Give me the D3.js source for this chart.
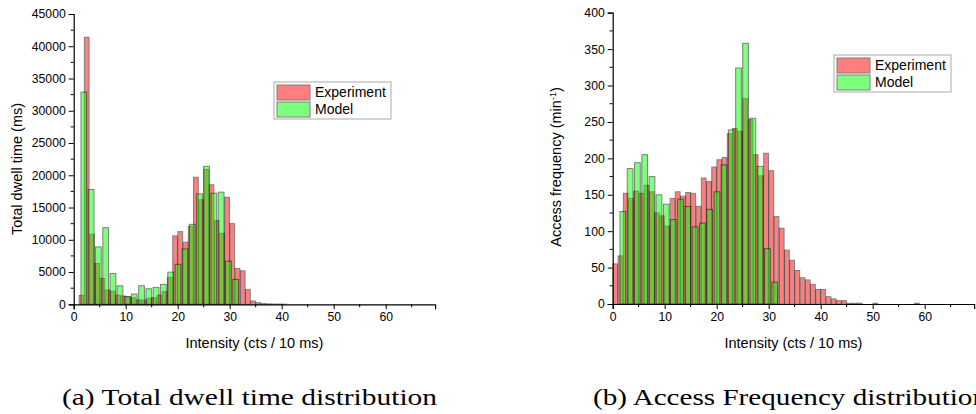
<!DOCTYPE html>
<html>
<head>
<meta charset="utf-8">
<script src="https://cdn.jsdelivr.net/npm/d3@7"></script>
<style>
    body { margin: 0; background: #fff; }
    svg text { font-family: Arial, "Liberation Sans", sans-serif; fill: #000; }
    .caption { font-family: "Liberation Serif", "DejaVu Serif", serif; }
</style>
</head>
<body>
<svg id="chart" width="976" height="414"></svg>
<script>
//--------------------------------------------------
// data
//--------------------------------------------------

// experiment: one bin per intensity unit, starting at 0
const dwellExperiment = [0, 1390, 41400, 10850, 6330, 4010, 2210, 2050, 1430, 1280,
    1170, 1020, 660, 660, 930, 1020, 1430, 1950, 4170, 10600,
    11260, 9620, 12080, 19690, 16200, 20900, 18520, 13000, 11000, 16600,
    12500, 5560, 5190, 2310, 510, 250, 100, 60, 40, 30, 20];

const freqExperiment = [55, 66, 152, 145, 155, 152, 163, 154, 125, 121,
    107, 145, 154, 148, 153, 152, 134, 173, 168, 188,
    198, 201, 234, 241, 237, 282, 253, 205, 176, 207,
    183, 120, 104, 74, 60, 46, 36, 33, 27, 20,
    20, 10, 7, 4.5, 4.5, 1, 1, 1, 0, 0,
    1, 0, 0, 0, 0, 0, 0, 0, 1];

// model bins are wider, left edge of each bin
const modelBinStart = [1.4, 2.8, 4.2, 5.6, 7.0, 8.35, 9.75, 11.1, 12.5, 13.9, 15.3,
    16.7, 18.1, 19.5, 20.85, 22.25, 23.65, 25.0, 26.4, 27.8, 29.2, 30.6];

const dwellModel = [32900, 17790, 8890, 11880, 4780, 2870, 1170, 1590, 2870, 2410, 2620,
    3090, 4980, 6200, 8580, 12390, 17130, 21390, 17220, 17380, 6680, 3860];

const freqModel = [127, 186, 194, 205, 175, 150, 137, 116, 144, 134, 106,
    111, 130, 154, 191, 239, 324, 358, 255, 189, 76, 30];

const xTicks = [0, 10, 20, 30, 40, 50, 60];
const dwellTicks = [0, 5000, 10000, 15000, 20000, 25000, 30000, 35000, 40000, 45000];
const freqTicks = [0, 50, 100, 150, 200, 250, 300, 350, 400];

const seriesNames = ["Experiment", "Model"];
const color_Exp = "#ff0000";
const color_Model = "#00ff00";

//--------------------------------------------------
// one panel
//--------------------------------------------------

const svg = d3.select("#chart");

function drawPanel(p) {
    const g = svg.append("g");

    const x = d3.scaleLinear().domain([0, 69.5]).range([p.left, p.left + 361.4]);
    const y = d3.scaleLinear().domain([0, p.yMax]).range([p.bottom, p.top]);

    // experiment bars (bin n -> [n, n+1])
    g.append("g").selectAll("rect")
        .data(p.exp.map((v, i) => ({ x: i, v: v })).filter(d => d.v > 0))
        .enter()
        .append("rect")
        .attr("x", d => x(d.x + 0.05))
        .attr("width", x(0.9) - x(0))
        .attr("y", d => y(d.v))
        .attr("height", d => y(0) - y(d.v))
        .attr("fill", color_Exp)
        .attr("stroke", "#000")
        .attr("stroke-width", 1)
        .attr("opacity", 0.5);

    // model bars on top
    g.append("g").selectAll("rect")
        .data(p.model.map((v, i) => ({ x: modelBinStart[i], v: v })))
        .enter()
        .append("rect")
        .attr("x", d => x(d.x))
        .attr("width", x(1.1) - x(0))
        .attr("y", d => y(d.v))
        .attr("height", d => y(0) - y(d.v))
        .attr("fill", color_Model)
        .attr("stroke", "#000")
        .attr("stroke-width", 1)
        .attr("opacity", 0.5);

    // x axis
    const xAxis = g.append("g")
        .attr("transform", `translate(0,${p.bottom})`)
        .call(d3.axisBottom(x).tickValues(xTicks).tickFormat(d3.format("d")).tickSize(5).tickPadding(3));
    xAxis.append("g").selectAll("line")
        .data(xTicks.map(t => t + 5))
        .enter().append("line")
        .attr("x1", d => x(d)).attr("x2", d => x(d))
        .attr("y1", 0).attr("y2", 3)
        .attr("stroke", "#000");

    // y axis
    const yAxis = g.append("g")
        .attr("transform", `translate(${p.left},0)`)
        .call(d3.axisLeft(y).tickValues(p.yTicks).tickFormat(d3.format("d")).tickSize(5).tickPadding(3));
    yAxis.append("g").selectAll("line")
        .data(p.yTicks.slice(0, -1).map(t => t + p.yTicks[1] / 2))
        .enter().append("line")
        .attr("y1", d => y(d)).attr("y2", d => y(d))
        .attr("x1", 0).attr("x2", -3)
        .attr("stroke", "#000");

    [xAxis, yAxis].forEach(a => {
        a.selectAll("text").style("font-size", "12.2px").style("font-family", "Arial, 'Liberation Sans', sans-serif");
        a.select(".domain").attr("stroke-width", 1.2);
    });

    // titles
    g.append("text")
        .attr("x", x(34.75))
        .attr("y", 348)
        .attr("text-anchor", "middle")
        .style("font-size", "14.5px")
        .text("Intensity (cts / 10 ms)");

    const yt = g.append("text")
        .attr("transform", `translate(${p.left - 52},${p.titleY}) rotate(-90)`)
        .attr("text-anchor", "middle")
        .style("font-size", "14.5px")
        .text(p.yTitle);
    if (p.yTitleSup) {
        yt.append("tspan").attr("baseline-shift", "super").style("font-size", "9px").text(p.yTitleSup);
        yt.append("tspan").text(")");
    }

    // legend
    const lg = g.append("g").attr("transform", `translate(${p.legX},${p.legY})`);
    lg.append("rect")
        .attr("width", 117).attr("height", 37)
        .attr("fill", "#fff").attr("stroke", "#aaa");
    seriesNames.forEach((name, i) => {
        lg.append("rect")
            .attr("x", 3).attr("y", 3 + i * 17)
            .attr("width", 33).attr("height", 15)
            .attr("fill", i === 0 ? color_Exp : color_Model)
            .attr("stroke", "#000")
            .attr("opacity", 0.5);
        lg.append("text")
            .attr("x", 41).attr("y", 15 + i * 17)
            .style("font-size", "14px")
            .text(name);
    });

    // caption
    svg.append("text")
        .attr("class", "caption")
        .attr("x", p.capX)
        .attr("y", 405)
        .attr("textLength", p.capLen)
        .attr("lengthAdjust", "spacingAndGlyphs")
        .style("font-size", "24px")
        .style("font-family", "'Liberation Serif', 'DejaVu Serif', serif")
        .text(p.caption);
}

drawPanel({
    left: 73.7, top: 14, bottom: 304.3, yMax: 45000, yTicks: dwellTicks,
    exp: dwellExperiment, model: dwellModel,
    yTitle: "Total dwell time (ms)", titleY: 169,
    legX: 274, legY: 82,
    caption: "(a) Total dwell time distribution", capX: 62, capLen: 375
});

drawPanel({
    left: 612.7, top: 12.7, bottom: 304, yMax: 400, yTicks: freqTicks,
    exp: freqExperiment, model: freqModel,
    yTitle: "Access frequency (min", yTitleSup: "-1", titleY: 167,
    legX: 834, legY: 55,
    caption: "(b) Access Frequency distribution", capX: 593, capLen: 394
});
</script>
</body>
</html>
